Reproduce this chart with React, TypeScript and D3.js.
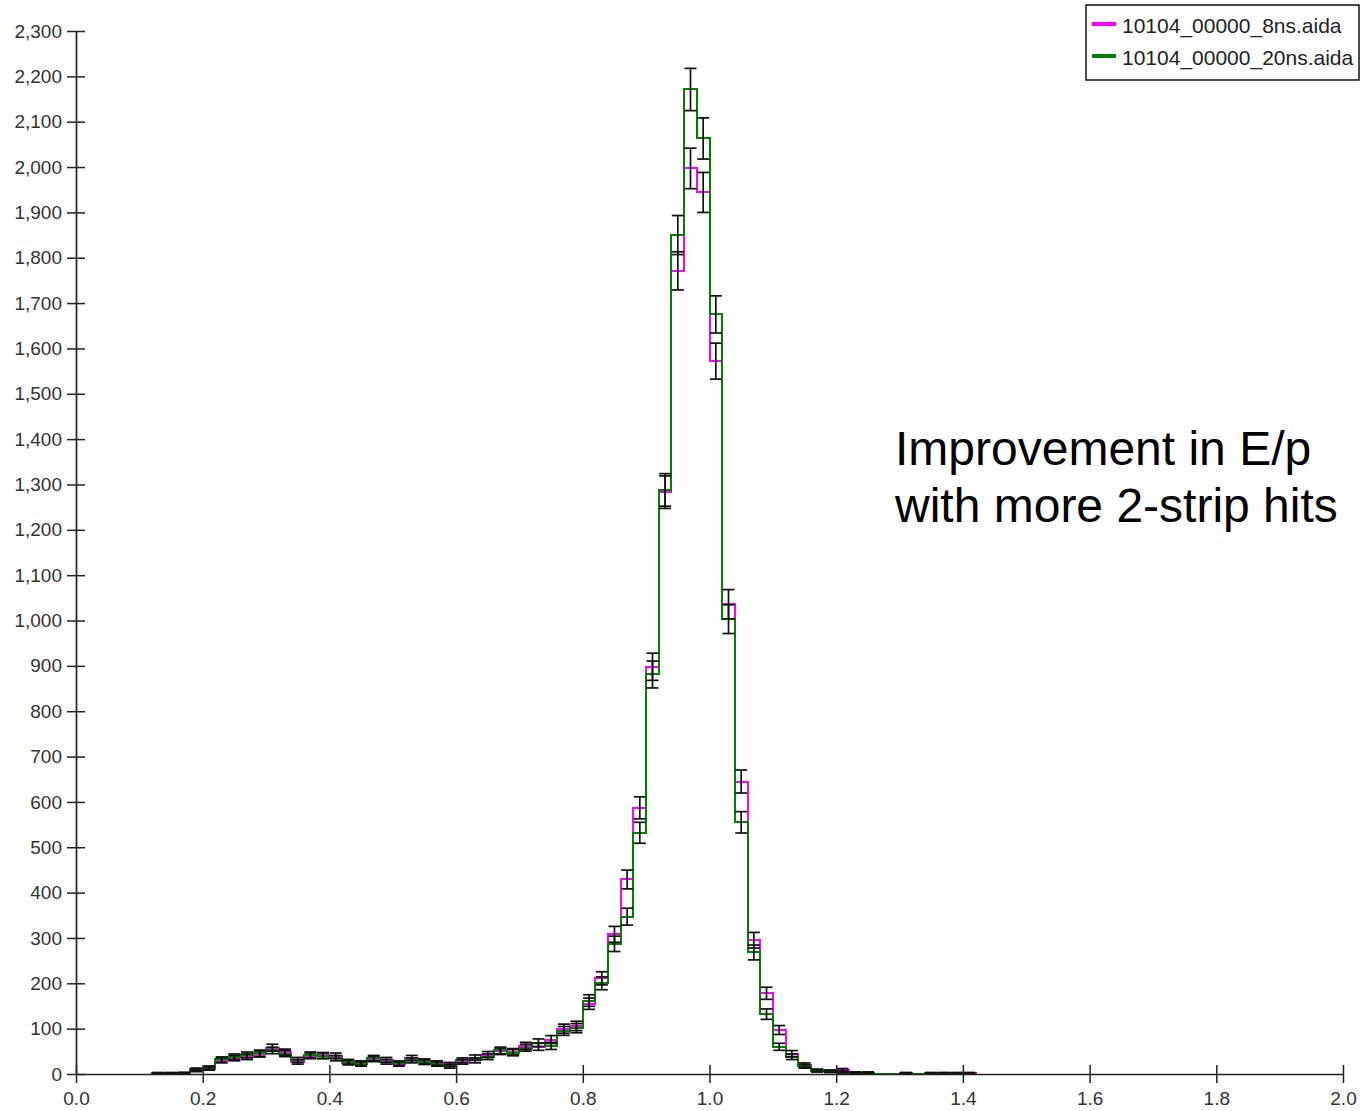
import React, { useEffect, useRef } from 'react'
import * as d3 from 'd3'

// histogram of E/p, 0.02 wide bins starting at 0.12
const binStart = 0.12
const binWidth = 0.02

const counts8ns = [
  1, 2, 2, 8, 12, 30, 35, 38, 44, 58,
  48, 27, 40, 41, 40, 25, 24, 33, 31, 22,
  35, 28, 24, 21, 27, 36, 43, 50, 49, 62,
  60, 76, 100, 106, 155, 211, 308, 429, 587, 898,
  1283, 1771, 1997, 1944, 1572, 1036, 645, 295, 178, 97,
  45, 20, 8, 6, 9, 3, 2, 0, 0, 2,
  0, 1, 2, 1, 2,
]

const counts20ns = [
  2, 1, 2, 10, 14, 32, 38, 42, 46, 52,
  45, 31, 42, 40, 35, 27, 22, 35, 27, 24,
  30, 26, 22, 17, 30, 30, 38, 52, 47, 58,
  69, 62, 95, 101, 162, 200, 287, 347, 532, 881,
  1288, 1850, 2171, 2063, 1675, 1003, 555, 268, 132, 60,
  38, 17, 7, 6, 4, 3, 3, 0, 0, 0,
  0, 2, 1, 2, 1,
]

const seriesNames = ['10104_00000_8ns.aida', '10104_00000_20ns.aida']
const seriesColors = ['#ff00ff', '#008000']

const xTicks = [0, 0.2, 0.4, 0.6, 0.8, 1.0, 1.2, 1.4, 1.6, 1.8, 2.0]
const yTicks = d3.range(0, 2400, 100)

const noteLines = ['Improvement in E/p', 'with more 2-strip hits']

function drawChart(node) {
  const svg = d3.select(node)
  svg.selectAll('*').remove()

  const x = d3.scaleLinear().domain([0, 2]).range([76, 1343])
  const y = d3.scaleLinear().domain([0, 2300]).range([1074, 31])

  const font = "'Liberation Sans', Arial, sans-serif"

  // step outline of a histogram, snapped to whole pixels
  function stepPoints(counts) {
    const px = (v) => Math.round(x(v))
    const py = (v) => Math.round(y(v))
    const pts = [[px(binStart), py(0)]]
    counts.forEach((c, i) => {
      const lo = binStart + i * binWidth
      pts.push([px(lo), py(c)])
      pts.push([px(lo + binWidth), py(c)])
    })
    pts.push([px(binStart + counts.length * binWidth), py(0)])
    return pts
  }

  const line = d3.line()
  const allSeries = [counts8ns, counts20ns]

  allSeries.forEach((counts, s) => {
    svg.append('path')
      .attr('d', line(stepPoints(counts)))
      .attr('fill', 'none')
      .attr('stroke', seriesColors[s])
      .attr('stroke-width', 2)
      .attr('shape-rendering', 'crispEdges')
  })

  // poisson error bars
  const cap = 6
  allSeries.forEach((counts) => {
    const g = svg.append('g')
      .attr('stroke', '#111')
      .attr('stroke-width', 1.7)
    counts.forEach((c, i) => {
      if (c <= 0) return
      const cx = x(binStart + (i + 0.5) * binWidth)
      const e = Math.sqrt(c)
      const top = y(c + e), bot = y(Math.max(0, c - e))
      g.append('line').attr('x1', cx).attr('x2', cx).attr('y1', top).attr('y2', bot)
      g.append('line').attr('x1', cx - cap).attr('x2', cx + cap).attr('y1', top).attr('y2', top)
      g.append('line').attr('x1', cx - cap).attr('x2', cx + cap).attr('y1', bot).attr('y2', bot)
    })
  })

  // x axis
  const gx = svg.append('g')
    .attr('transform', 'translate(0,' + y(0) + ')')
    .call(d3.axisBottom(x).tickValues(xTicks).tickFormat(d3.format('.1f')).tickSizeInner(9).tickSizeOuter(0).tickPadding(9))
  gx.select('.domain').attr('stroke', '#222').attr('stroke-width', 1.7)
  gx.selectAll('.tick line').attr('stroke', '#222').attr('stroke-width', 1.5).attr('y1', -9)
  gx.selectAll('.tick text')
    .attr('fill', '#333')
    .attr('font-family', font)
    .attr('font-size', 19)

  // y axis
  const gy = svg.append('g')
    .attr('transform', 'translate(' + x(0) + ',0)')
    .call(d3.axisLeft(y).tickValues(yTicks).tickFormat(d3.format(',')).tickSizeInner(9).tickSizeOuter(0).tickPadding(5))
  gy.select('.domain').attr('stroke', '#222').attr('stroke-width', 1.7)
  gy.selectAll('.tick line').attr('stroke', '#222').attr('stroke-width', 1.5).attr('x1', -9).attr('x2', 9)
  gy.selectAll('.tick text')
    .attr('fill', '#333')
    .attr('font-family', font)
    .attr('font-size', 19)

  // legend
  const lg = svg.append('g')
  lg.append('rect')
    .attr('x', 1086).attr('y', 5).attr('width', 273).attr('height', 75)
    .attr('fill', 'white').attr('stroke', '#111').attr('stroke-width', 1.5)
  seriesNames.forEach((name, i) => {
    const ly = 24 + i * 32
    lg.append('line')
      .attr('x1', 1092).attr('x2', 1116).attr('y1', ly).attr('y2', ly)
      .attr('stroke', seriesColors[i]).attr('stroke-width', 4)
    lg.append('text')
      .attr('x', 1122).attr('y', ly + 9)
      .attr('font-family', font).attr('font-size', 21).attr('fill', '#222')
      .text(name)
  })

  // annotation
  noteLines.forEach((t, i) => {
    svg.append('text')
      .attr('x', 895).attr('y', 465 + i * 57)
      .attr('font-family', font).attr('font-size', 48).attr('fill', 'black')
      .text(t)
  })
}

export default function App() {
  const ref = useRef(null)
  useEffect(() => {
    if (ref.current) drawChart(ref.current)
  }, [])
  return (
    <svg
      ref={ref}
      width={1361}
      height={1111}
      style={{ position: 'absolute', left: 0, top: 0, background: 'white' }}
    />
  )
}
